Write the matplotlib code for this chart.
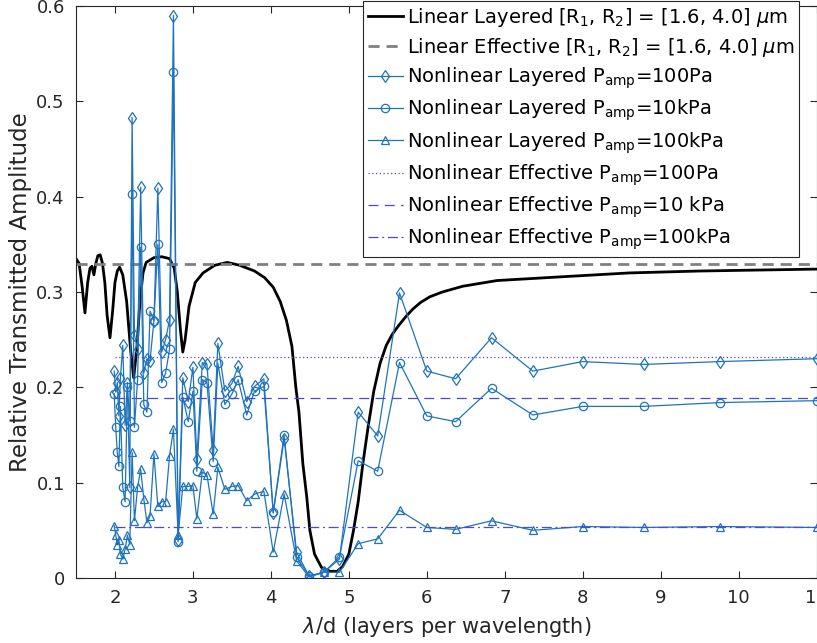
import matplotlib
matplotlib.use("Agg")
import matplotlib.pyplot as plt

# ---- data ----------------------------------------------------------------
# Linear layered model (continuous transmission curve)
lin_x = [1.50, 1.54, 1.58, 1.615, 1.65, 1.68, 1.705, 1.73, 1.755, 1.78, 1.81,
         1.84, 1.87, 1.90, 1.936, 1.97, 2.00, 2.03, 2.06, 2.10, 2.15, 2.20,
         2.24, 2.28, 2.32, 2.36, 2.40, 2.50, 2.60, 2.70, 2.76, 2.80, 2.84,
         2.87, 2.90, 2.95, 3.03, 3.13, 3.28, 3.44, 3.60, 3.79, 3.92, 4.03,
         4.12, 4.20, 4.27, 4.32, 4.36, 4.41, 4.46, 4.50, 4.56, 4.65, 4.76,
         4.85, 4.92, 5.00, 5.06, 5.12, 5.18, 5.25, 5.32, 5.40, 5.48, 5.56,
         5.65, 5.74, 5.82, 5.92, 6.04, 6.20, 6.46, 6.90, 7.74, 8.60, 9.50, 11.0]
lin_y = [0.335, 0.330, 0.305, 0.278, 0.310, 0.325, 0.327, 0.318, 0.330, 0.338, 0.339,
         0.330, 0.310, 0.275, 0.252, 0.280, 0.310, 0.322, 0.326, 0.318, 0.290, 0.240,
         0.210, 0.240, 0.290, 0.320, 0.331, 0.336, 0.337, 0.335, 0.325, 0.300, 0.260,
         0.237, 0.250, 0.285, 0.310, 0.320, 0.328, 0.331, 0.328, 0.322, 0.315, 0.305,
         0.290, 0.270, 0.243, 0.200, 0.174, 0.120, 0.085, 0.050, 0.025, 0.011, 0.007,
         0.007, 0.012, 0.025, 0.050, 0.080, 0.120, 0.160, 0.196, 0.225, 0.244, 0.256,
         0.266, 0.275, 0.282, 0.289, 0.295, 0.300, 0.306, 0.312, 0.316, 0.320, 0.322, 0.324]

lin_eff_level = 0.329

# Nonlinear layered simulations (common lambda/d sampling)
nl_x = [1.99, 2.01, 2.03, 2.05, 2.07, 2.10, 2.13, 2.16, 2.19, 2.22, 2.25, 2.29,
        2.33, 2.37, 2.41, 2.45, 2.50, 2.55, 2.60, 2.65, 2.70, 2.75, 2.81, 2.87,
        2.94, 3.00, 3.05, 3.12, 3.18, 3.26, 3.32, 3.41, 3.50, 3.58, 3.69, 3.79,
        3.91, 4.03, 4.17, 4.33, 4.49, 4.68, 4.88, 5.12, 5.37, 5.65, 6.00, 6.37,
        6.83, 7.36, 8.00, 8.78, 9.76, 11.0]
nl_100pa = [0.217, 0.195, 0.205, 0.170, 0.210, 0.244, 0.160, 0.205, 0.095, 0.483, 0.255, 0.240,
            0.410, 0.215, 0.230, 0.228, 0.270, 0.409, 0.237, 0.250, 0.271, 0.590, 0.040, 0.210,
            0.185, 0.221, 0.125, 0.226, 0.224, 0.134, 0.246, 0.196, 0.204, 0.222, 0.185, 0.201,
            0.209, 0.068, 0.146, 0.027, 0.002, 0.006, 0.020, 0.174, 0.149, 0.299, 0.217, 0.209,
            0.252, 0.217, 0.227, 0.224, 0.227, 0.230]
nl_10kpa = [0.193, 0.158, 0.132, 0.117, 0.180, 0.095, 0.080, 0.200, 0.165, 0.403, 0.158, 0.208,
            0.347, 0.182, 0.174, 0.280, 0.270, 0.350, 0.205, 0.215, 0.240, 0.531, 0.038, 0.190,
            0.164, 0.196, 0.112, 0.208, 0.205, 0.122, 0.225, 0.182, 0.193, 0.208, 0.171, 0.196,
            0.201, 0.069, 0.150, 0.022, 0.002, 0.006, 0.022, 0.123, 0.112, 0.226, 0.170, 0.164,
            0.199, 0.171, 0.180, 0.180, 0.184, 0.186]
nl_100kpa = [0.055, 0.045, 0.035, 0.040, 0.025, 0.020, 0.030, 0.045, 0.035, 0.132, 0.060, 0.095,
             0.114, 0.083, 0.058, 0.065, 0.130, 0.075, 0.080, 0.080, 0.128, 0.156, 0.045, 0.096,
             0.096, 0.097, 0.062, 0.111, 0.108, 0.067, 0.116, 0.093, 0.096, 0.097, 0.081, 0.088,
             0.091, 0.027, 0.088, 0.018, 0.001, 0.006, 0.006, 0.036, 0.041, 0.071, 0.053, 0.051,
             0.060, 0.050, 0.054, 0.053, 0.054, 0.053]

# Nonlinear effective-medium levels
eff_x = [2.0, 11.0]
eff_100pa = 0.232
eff_10kpa = 0.189
eff_100kpa = 0.053

x_ticks = [2, 3, 4, 5, 6, 7, 8, 9, 10, 11]
y_ticks = [0, 0.1, 0.2, 0.3, 0.4, 0.5, 0.6]
y_ticklabels = ["0", "0.1", "0.2", "0.3", "0.4", "0.5", "0.6"]

labels = [r"Linear Layered [R$_1$, R$_2$] = [1.6, 4.0] $\mu$m",
          r"Linear Effective [R$_1$, R$_2$] = [1.6, 4.0] $\mu$m",
          r"Nonlinear Layered P$_{\mathregular{amp}}$=100Pa",
          r"Nonlinear Layered P$_{\mathregular{amp}}$=10kPa",
          r"Nonlinear Layered P$_{\mathregular{amp}}$=100kPa",
          r"Nonlinear Effective P$_{\mathregular{amp}}$=100Pa",
          r"Nonlinear Effective P$_{\mathregular{amp}}$=10 kPa",
          r"Nonlinear Effective P$_{\mathregular{amp}}$=100kPa"]

# ---- figure --------------------------------------------------------------
plt.rcParams["font.family"] = ["DejaVu Sans"]
plt.rcParams["mathtext.fontset"] = "dejavusans"

fig = plt.figure(figsize=(8.17, 6.43), dpi=100)
ax = fig.add_axes([0.093, 0.1011, 0.9065, 0.8896])

blue = "#1f73bd"
eff_col = "#4a4ad6"

h_lin, = ax.plot(lin_x, lin_y, color="black", lw=2.0)
h_lineff, = ax.plot([1.5, 11.0], [lin_eff_level] * 2, color="#808080", lw=2.0,
                    dashes=(4, 2.5))

mk = dict(color=blue, lw=0.9, ms=6, mfc="none", mew=0.9)
h_d, = ax.plot(nl_x, nl_100pa, marker="d", **mk)
h_c, = ax.plot(nl_x, nl_10kpa, marker="o", **mk)
h_t, = ax.plot(nl_x, nl_100kpa, marker="^", **mk)

h_e1, = ax.plot(eff_x, [eff_100pa] * 2, color=eff_col, lw=0.9, ls=(0, (1, 2)))
h_e2, = ax.plot(eff_x, [eff_10kpa] * 2, color=eff_col, lw=0.9, ls=(0, (8, 5)))
h_e3, = ax.plot(eff_x, [eff_100kpa] * 2, color=eff_col, lw=0.9, ls=(0, (8, 3, 1.5, 3)))

ax.set_xlim(1.5, 11.0)
ax.set_ylim(0, 0.6)
ax.set_xticks(x_ticks)
ax.set_xticklabels([str(t) for t in x_ticks])
ax.set_yticks(y_ticks)
ax.set_yticklabels(y_ticklabels)
ax.tick_params(direction="in", length=5, width=0.8, top=True, right=True,
               labelsize=13, colors="#262626", pad=8)
for s in ax.spines.values():
    s.set_color("#262626")
    s.set_linewidth(0.8)

ax.set_xlabel(r"$\lambda$/d (layers per wavelength)", fontsize=15, color="#262626",
              labelpad=6)
ax.set_ylabel("Relative Transmitted Amplitude", fontsize=16.5, color="#262626",
              labelpad=3)

handles = [h_lin, h_lineff, h_d, h_c, h_t, h_e1, h_e2, h_e3]
leg = ax.legend(handles, labels, loc="upper right",
                bbox_to_anchor=(799 / 817, 1 - 1 / 643), bbox_transform=fig.transFigure,
                borderaxespad=0, fontsize=14, handlelength=1.8, handletextpad=0.2,
                labelspacing=0.35, borderpad=0.25, numpoints=1, fancybox=False,
                framealpha=1, edgecolor="#262626")
leg.get_frame().set_linewidth(0.8)

fig.savefig("out.png", dpi=100)
